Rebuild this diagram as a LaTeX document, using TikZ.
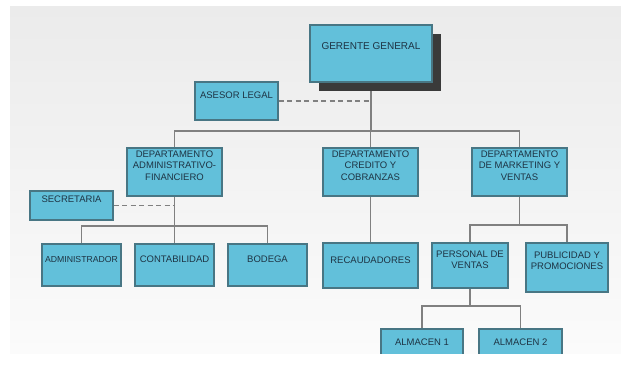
\documentclass[tikz,border=0pt]{standalone}
\usepackage{fontspec}
\setmainfont{Liberation Sans}
\usetikzlibrary{shadows}

\definecolor{boxfill}{RGB}{98,192,218}
\definecolor{boxline}{RGB}{72,118,132}
\definecolor{ink}{RGB}{30,52,68}
\definecolor{wiregray}{RGB}{128,128,128}
\definecolor{shadowgray}{RGB}{58,58,58}
\definecolor{bgtop}{RGB}{235,235,235}
\definecolor{bgbot}{RGB}{251,251,251}

\pgfdeclarelayer{bg}
\pgfdeclarelayer{wires}
\pgfsetlayers{bg,wires,main}

\newcommand{\boxtext}[1]{\begin{tabular}{@{}c@{}}#1\end{tabular}}

\tikzset{
  unit/.style={draw=boxline, line width=1.1pt, fill=boxfill, text=ink,
    font=\fontsize{9.5}{11.5}\selectfont, inner xsep=1pt,
    text height=0pt, text depth=5.6pt},
  wire/.style={draw=wiregray, line width=1.2pt},
  dashwire/.style={wire, dash pattern=on 5pt off 3.5pt}
}

\begin{document}
\begin{tikzpicture}[x=1pt,y=-1pt]
  \useasboundingbox (0,0) rectangle (621,368);
  \begin{pgfonlayer}{bg}
    \shade[top color=bgtop, bottom color=bgbot] (10,6) rectangle (621,353);
  \end{pgfonlayer}

  \node[unit, minimum width=122, minimum height=57, text depth=8.6pt,
    font=\fontsize{10}{12}\selectfont,
    drop shadow={shadow xshift=9pt, shadow yshift=-9pt, fill=shadowgray, opacity=1}]
    (gg) at (371,53.5) {GERENTE GENERAL};
  \node[unit, minimum width=83, minimum height=38] (asesor) at (236.5,101) {ASESOR LEGAL};

  \node[unit, minimum width=95, minimum height=48, text depth=6.6pt] (dadm) at (174.5,172)
    {\boxtext{DEPARTAMENTO\\ADMINISTRATIVO-\\FINANCIERO}};
  \node[unit, minimum width=95, minimum height=48, text depth=6.6pt] (dcred) at (370.5,172)
    {\boxtext{DEPARTAMENTO\\CREDITO Y\\COBRANZAS}};
  \node[unit, minimum width=95, minimum height=48, text depth=6.6pt] (dmkt) at (519.5,172)
    {\boxtext{DEPARTAMENTO\\DE MARKETING Y\\VENTAS}};
  \node[unit, minimum width=83, minimum height=29, text depth=6.6pt] (secr) at (71.5,205.5) {SECRETARIA};

  \node[unit, minimum width=79, minimum height=42, font=\fontsize{8.7}{11}\selectfont] (admr) at (81.5,265) {ADMINISTRADOR};
  \node[unit, minimum width=79, minimum height=42] (cont) at (174.5,265) {CONTABILIDAD};
  \node[unit, minimum width=79, minimum height=42] (bod) at (267.5,265) {BODEGA};
  \node[unit, minimum width=95, minimum height=45, text depth=4.6pt] (recau) at (370.5,265.5) {RECAUDADORES};
  \node[unit, minimum width=76, minimum height=45] (pers) at (470,265.5)
    {\boxtext{PERSONAL DE\\VENTAS}};
  \node[unit, minimum width=82, minimum height=49, text depth=7.6pt] (publ) at (567,267.5)
    {\boxtext{PUBLICIDAD Y\\PROMOCIONES}};

  \begin{scope}
    \clip (0,0) rectangle (621,353);
    \node[unit, minimum width=82, minimum height=36, text depth=3.6pt] (alm1) at (422,347) {ALMACEN 1};
    \node[unit, minimum width=83, minimum height=36, text depth=3.6pt] (alm2) at (520.5,347) {ALMACEN 2};
  \end{scope}

  \coordinate (bustop) at (0,131);
  \coordinate (busadm) at (0,226);
  \coordinate (busmkt) at (0,225);
  \coordinate (busalm) at (0,306);

  \begin{pgfonlayer}{wires}
    \draw[wire] (gg.south) -- (gg.south |- bustop);
    \draw[wire] (dadm.north) |- (bustop -| dmkt.north) -- (dmkt.north);
    \draw[wire] (dcred.north) -- (dcred.north |- bustop);
    \draw[dashwire] (asesor.east) -- (asesor.east -| gg.south);

    \draw[wire] (dadm.south) -- (cont.north);
    \draw[wire] (admr.north) |- (busadm -| bod.north) -- (bod.north);
    \draw[dashwire] (secr.east) -- (secr.east -| dadm.south);

    \draw[wire] (dcred.south) -- (recau.north);

    \draw[wire] (dmkt.south) -- (dmkt.south |- busmkt);
    \draw[wire] (pers.north) |- (busmkt -| publ.north) -- (publ.north);
    \draw[wire] (pers.south) -- (pers.south |- busalm);
    \draw[wire] (alm1.north) |- (busalm -| alm2.north) -- (alm2.north);
  \end{pgfonlayer}
\end{tikzpicture}
\end{document}
